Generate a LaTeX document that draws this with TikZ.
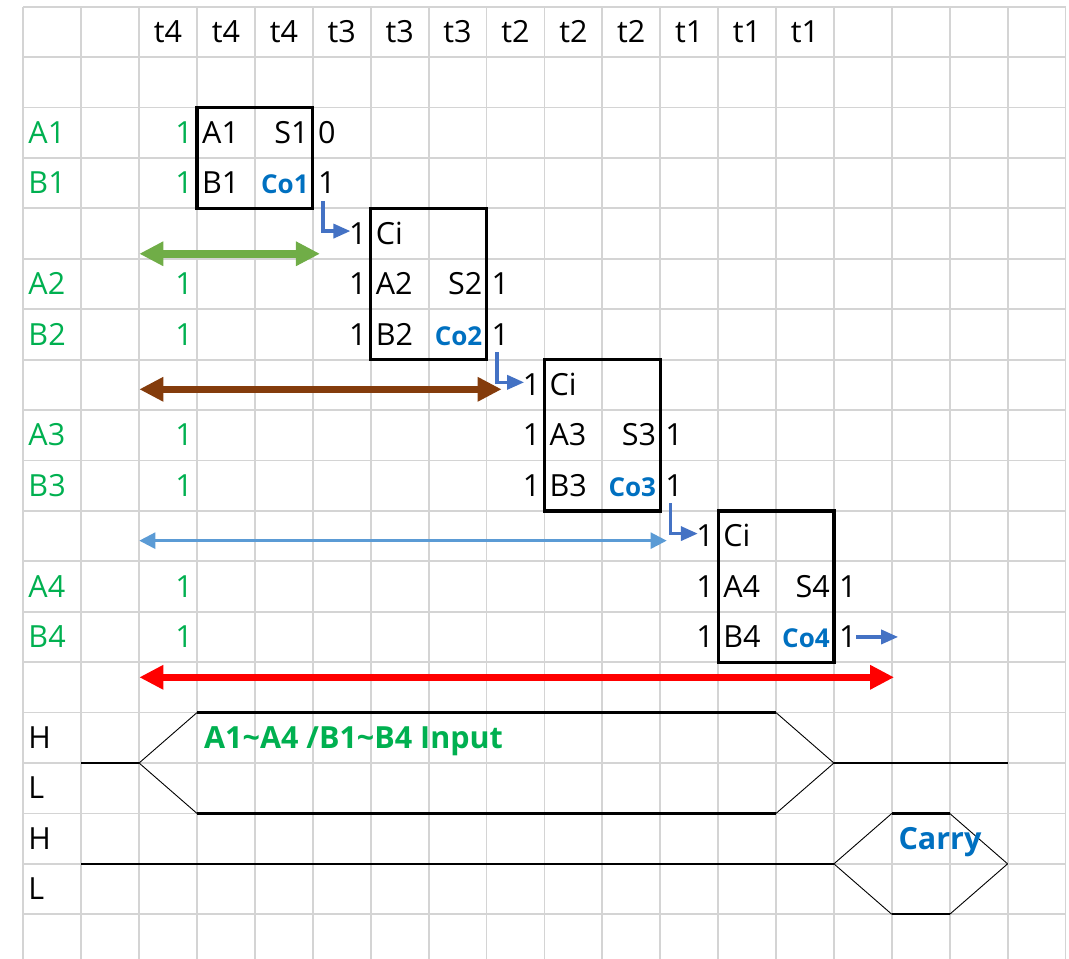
\documentclass[tikz,border=0pt]{standalone}
\usepackage{fontspec}
\setmainfont{Open Sans}
\usetikzlibrary{arrows.meta}

\definecolor{sigin}{HTML}{00B050}
\definecolor{coblue}{HTML}{0070C0}
\definecolor{carryarrow}{HTML}{4472C4}
\definecolor{spanblue}{HTML}{5B9BD5}
\definecolor{spangreen}{HTML}{70AD47}
\definecolor{spanbrown}{HTML}{843C0C}
\definecolor{spanred}{HTML}{FF0000}
\definecolor{gridc}{HTML}{D4D4D4}

\tikzset{
  cell/.style={inner sep=0pt, yshift=-10.6pt},
  lt/.style={cell, anchor=base west, xshift=5pt},
  rt/.style={cell, anchor=base east, xshift=-4pt},
  ct/.style={cell, anchor=base},
  inp/.style={text=sigin},
  cob/.style={text=coblue, font=\fontsize{26}{30}\selectfont\bfseries},
  gridline/.style={draw=gridc, line width=1.8pt},
  adder/.style={draw=black, line width=3.2pt},
  bigspan/.style={line width=7.5pt,
    {Triangle[length=24pt,width=23pt]}-{Triangle[length=24pt,width=23pt]}},
  thinspan/.style={line width=2.5pt,
    {Triangle[length=16pt,width=16pt]}-{Triangle[length=16pt,width=16pt]}},
  carrywire/.style={draw=carryarrow, line width=3.5pt, line join=miter,
    -{Triangle[length=17pt,width=14pt]}},
  level/.style={draw=black, line width=2.2pt},
  edge/.style={draw=black, line width=0.9pt},
}

\begin{document}
\begin{tikzpicture}[x=57.9pt, y=-50.42pt, font=\fontsize{30.5}{36}\selectfont]
\useasboundingbox (-0.4024,-0.1329) rectangle (18.0604,18.887);

% sheet grid
\foreach \c in {0,...,18} \draw[gridline] (\c,0) -- (\c,18.887);
\foreach \r in {0,...,18} \draw[gridline] (0,\r) -- (18,\r);

% time slots
\foreach \c/\t [count=\i] in {2/t4,3/t4,4/t4,5/t3,6/t3,7/t3,8/t2,9/t2,10/t2,11/t1,12/t1,13/t1}
  \node[ct] (hd\i) at (\c+.5,.5) {\t};

% input names and values
\foreach \r/\t in {2/A1,3/B1,5/A2,6/B2,8/A3,9/B3,11/A4,12/B4} {
  \node[lt,inp] (lab\t) at (0,\r+.5) {\t};
  \node[rt,inp] (val\t) at (3,\r+.5) {1};
}

% level names of the timing chart
\foreach \r/\t [count=\i] in {14/H,15/L,16/H,17/L}
  \node[lt] (lvl\i) at (0,\r+.5) {\t};

% full adders: number / left column / row of A
\foreach \k/\c/\a/\s in {1/3/2/0,2/6/5/1,3/9/8/1,4/12/11/1} {
  \node[lt] (a\k) at (\c,\a+.5) {A\k};
  \node[rt] (s\k) at (\c+2,\a+.5) {S\k};
  \node[lt] (b\k) at (\c,\a+1.5) {B\k};
  \node[rt,cob] (co\k) at (\c+2,\a+1.5) {Co\k};
  \node[lt] (sv\k) at (\c+2,\a+.5) {\s};
  \node[lt] (cv\k) at (\c+2,\a+1.5) {1};
}
\draw[adder] (3,2) rectangle (5,4);
\foreach \k/\c/\a in {2/6/5,3/9/8,4/12/11} {
  \draw[adder] (\c,\a-1) rectangle (\c+2,\a+2);
  \node[lt] (ci\k) at (\c,\a-.5) {Ci};
  \node[rt] (civ\k) at (\c,\a-.5) {1};
  \node[rt] (av\k) at (\c,\a+.5) {1};
  \node[rt] (bv\k) at (\c,\a+1.5) {1};
}

% carry passed on to the next stage
\foreach \k/\c/\a in {1/3/2,2/6/5,3/9/8} {
  \coordinate (kout\k) at (\c+2.18,\a+1.85);
  \coordinate (kin\k) at (\c+2.65,\a+2.45);
  \draw[carrywire] (kout\k) |- (kin\k);
}
\coordinate (kout4) at (14.39,12.5);
\coordinate (kin4) at (15.11,12.5);
\draw[carrywire] (kout4) -- (kin4);

% propagation spans
\coordinate (g1) at (2.003,4.9);   \coordinate (g2) at (5.124,4.9);
\coordinate (h1) at (2.003,7.588); \coordinate (h2) at (8.262,7.588);
\coordinate (u1) at (2.003,10.59); \coordinate (u2) at (11.112,10.59);
\coordinate (v1) at (2.003,13.3);  \coordinate (v2) at (15.04,13.3);
\draw[bigspan, draw=spangreen, fill=spangreen] (g1) -- (g2);
\draw[bigspan, draw=spanbrown, fill=spanbrown] (h1) -- (h2);
\draw[thinspan, draw=spanblue, fill=spanblue] (u1) -- (u2);
\draw[bigspan, draw=spanred, fill=spanred] (v1) -- (v2);

% input bus waveform
\draw[level] (1,15) -- (2,15);
\draw[edge] (2,15) -- (3,14);
\draw[edge] (2,15) -- (3,16);
\draw[level] (3,14) -- (13,14);
\draw[level] (3,16) -- (13,16);
\draw[edge] (13,14) -- (14,15);
\draw[edge] (13,16) -- (14,15);
\draw[level] (14,15) -- (17,15);
\node[lt, inp, font=\fontsize{30.5}{36}\selectfont\bfseries, xshift=2pt] (busname) at (3,14.5)
  {A1\textasciitilde A4 /B1\textasciitilde B4 Input};

% carry waveform
\draw[level] (1,17) -- (14,17);
\draw[edge] (14,17) -- (15,16);
\draw[edge] (14,17) -- (15,18);
\draw[level] (15,16) -- (16,16);
\draw[level] (15,18) -- (16,18);
\draw[edge] (16,16) -- (17,17);
\draw[edge] (16,18) -- (17,17);
\node[lt, text=coblue, font=\fontsize{30.5}{36}\selectfont\bfseries, xshift=1.5pt] (carryname) at (15,16.5) {Carry};
\end{tikzpicture}
\end{document}
